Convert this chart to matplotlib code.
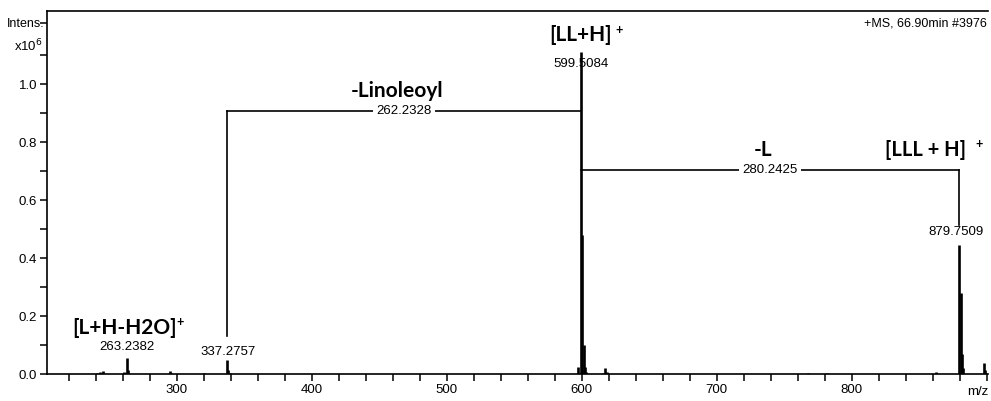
import matplotlib
matplotlib.use('Agg')
import matplotlib.pyplot as plt
from matplotlib.ticker import MultipleLocator, FixedLocator

# peak list (m/z, intensity x10^6)
mz = [241.2, 243.2, 245.2, 261.2, 263.24, 264.24, 295.2, 296.2, 320.3,
      337.28, 338.28, 339.3, 597.5, 599.51, 600.51, 601.52, 602.52, 603.5,
      615.5, 617.5, 618.5, 767.5, 781.5, 862.7, 879.75, 880.75, 881.76,
      882.76, 897.7, 898.7]
inten = [0.003, 0.008, 0.012, 0.008, 0.055, 0.015, 0.012, 0.004, 0.004,
         0.050, 0.014, 0.004, 0.025, 1.110, 0.480, 0.100, 0.025, 0.008,
         0.004, 0.020, 0.008, 0.003, 0.004, 0.008, 0.445, 0.280, 0.070,
         0.020, 0.038, 0.015]

xticks = [300, 400, 500, 600, 700, 800]
yticks = [0.0, 0.2, 0.4, 0.6, 0.8, 1.0]

# fragmentation brackets: (from peak, to peak, bracket height, loss, name)
losses = [(337.2757, 599.5084, 0.907, '262.2328', '-Linoleoyl'),
          (599.5084, 879.7509, 0.703, '280.2425', '-L')]

num_font = 'Liberation Sans'
bold_font = 'Lato'
nsize = 9.5
bsize = 15

fig = plt.figure(figsize=(9.91, 4.01), dpi=100)
ax = fig.add_axes([0.0474, 0.0673, 0.9496, 0.905])

ax.vlines(mz, 0, inten, color='black', linewidth=1.9)

ax.set_xlim(204, 901)
ax.set_ylim(0, 1.252)

ax.spines['right'].set_visible(False)
for s in ['left', 'bottom', 'top']:
    ax.spines[s].set_linewidth(1.2)

ax.xaxis.set_major_locator(FixedLocator(xticks))
ax.xaxis.set_minor_locator(MultipleLocator(20))
ax.yaxis.set_major_locator(FixedLocator(yticks))
ax.yaxis.set_minor_locator(FixedLocator([0.1, 0.3, 0.5, 0.7, 0.9, 1.1, 1.21]))
ax.tick_params(which='both', direction='out', length=5, width=1.1)
ax.tick_params(axis='both', labelsize=nsize, pad=2)
ax.set_yticklabels([f'{v:.1f}' for v in yticks], fontfamily=num_font)
ax.set_xticklabels([str(v) for v in xticks], fontfamily=num_font)

ax.text(-0.003, 0.965, 'Intens.', transform=ax.transAxes, ha='right', va='center',
        fontsize=9, fontfamily=num_font)
ax.text(-0.004, 0.905, 'x10$^6$', transform=ax.transAxes, ha='right', va='center',
        fontsize=9.5, fontfamily=num_font)
ax.text(0.999, 0.965, '+MS, 66.90min #3976', transform=ax.transAxes, ha='right',
        va='center', fontsize=9, fontfamily=num_font)
ax.text(1.0, -0.05, 'm/z', transform=ax.transAxes, ha='right', va='center',
        fontsize=nsize, fontfamily=num_font)

# brackets
for a, b, h, loss, name in losses:
    ax.plot([a, b], [h, h], color='black', linewidth=1.2)
    mid = (a + b) / 2
    ax.text(mid, h, loss, ha='center', va='center', fontsize=nsize, fontfamily=num_font,
            bbox=dict(facecolor='white', edgecolor='none', pad=2.5))
    ax.text(mid - 5, h + 0.07, name, ha='center', va='center', fontsize=bsize,
            fontweight='bold', fontfamily=bold_font)
ax.plot([337.2757, 337.2757], [0.131, 0.907], color='black', linewidth=1.2)
ax.plot([879.7509, 879.7509], [0.514, 0.703], color='black', linewidth=1.2)

# peak labels
ax.text(263.0, 0.093, '263.2382', ha='center', va='center', fontsize=nsize, fontfamily=num_font)
ax.text(337.8, 0.076, '337.2757', ha='center', va='center', fontsize=nsize, fontfamily=num_font)
ax.text(599.5, 1.069, '599.5084', ha='center', va='center', fontsize=nsize, fontfamily=num_font)
ax.text(877.4, 0.490, '879.7509', ha='center', va='center', fontsize=nsize, fontfamily=num_font)

# ion labels
ax.text(261.5, 0.159, '[L+H-H2O]', ha='center', va='center', fontsize=bsize,
        fontweight='bold', fontfamily=bold_font)
ax.text(302.5, 0.180, '+', ha='center', va='center', fontsize=9,
        fontweight='bold', fontfamily=bold_font)
ax.text(599.3, 1.169, '[LL+H]', ha='center', va='center', fontsize=bsize,
        fontweight='bold', fontfamily=bold_font)
ax.text(628.0, 1.188, '+', ha='center', va='center', fontsize=9,
        fontweight='bold', fontfamily=bold_font)
ax.text(884.4, 0.772, '[LLL + H]', ha='right', va='center', fontsize=14.5,
        fontweight='bold', fontfamily=bold_font)
ax.text(894.5, 0.795, '+', ha='center', va='center', fontsize=9,
        fontweight='bold', fontfamily=bold_font)

fig.savefig('out.png', dpi=100)
